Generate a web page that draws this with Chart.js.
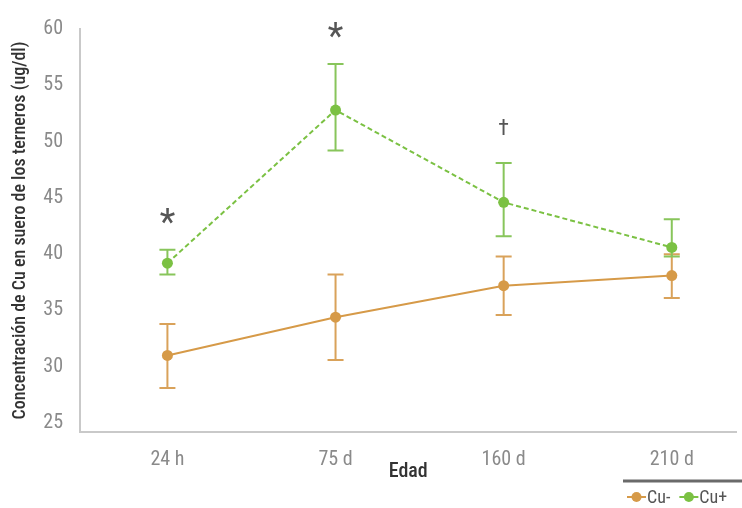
<!DOCTYPE html>
<html>
<head>
<meta charset="utf-8">
<script src="https://cdn.jsdelivr.net/npm/chart.js@4.4.1/dist/chart.umd.min.js"></script>
<style>
  body { margin: 0; background: #fff; }
  canvas { display: block; }
</style>
</head>
<body>
<canvas id="cuChart" width="742" height="508"></canvas>
<script>
// data
var categories = ["24 h", "75 d", "160 d", "210 d"];
var yTicks = [25, 30, 35, 40, 45, 50, 55, 60];
var cuMinus = [31.0, 34.4, 37.2, 38.1];
var cuMinusUpper = [33.8, 38.2, 39.8, 40.0];
var cuMinusLower = [28.1, 30.6, 34.6, 36.1];
var cuPlus = [39.2, 52.8, 44.6, 40.6];
var cuPlusUpper = [40.4, 56.9, 48.1, 43.1];
var cuPlusLower = [38.2, 49.2, 41.6, 39.8];
var marks = ["*", "*", "\u2020", ""];

var FONT = "'Liberation Sans Narrow', 'Roboto Condensed', Roboto, sans-serif";
var orange = "#d69a48";
var green = "#7bc143";

function toPoints(arr) {
  return arr.map(function (v, i) { return { x: i, y: v }; });
}

// error bars, significance marks and the legend
var extras = {
  id: "extras",
  beforeDatasetsDraw: function (chart) {
    var ctx = chart.ctx, xs = chart.scales.x, ys = chart.scales.y;
    var sets = [[cuMinusUpper, cuMinusLower, "#d9a25a"], [cuPlusUpper, cuPlusLower, "#88c55b"]];
    ctx.save();
    ctx.lineWidth = 2;
    sets.forEach(function (s) {
      ctx.strokeStyle = s[2];
      for (var i = 0; i < categories.length; i++) {
        var px = xs.getPixelForValue(i);
        var top = ys.getPixelForValue(s[0][i]);
        var bot = ys.getPixelForValue(s[1][i]);
        ctx.beginPath();
        ctx.moveTo(px, top); ctx.lineTo(px, bot);
        ctx.moveTo(px - 8, top); ctx.lineTo(px + 8, top);
        ctx.moveTo(px - 8, bot); ctx.lineTo(px + 8, bot);
        ctx.stroke();
      }
    });
    ctx.restore();
  },
  afterDraw: function (chart) {
    var ctx = chart.ctx, xs = chart.scales.x, ys = chart.scales.y;
    ctx.save();
    ctx.fillStyle = "#555";
    ctx.textAlign = "center";
    ctx.textBaseline = "middle";
    for (var i = 0; i < marks.length; i++) {
      if (!marks[i]) continue;
      var px = xs.getPixelForValue(i);
      var py = ys.getPixelForValue(cuPlusUpper[i]);
      if (marks[i] == "*") {
        ctx.font = "36px " + FONT;
        ctx.fillText(marks[i], px, py - 25);
      } else {
        ctx.font = "22px " + FONT;
        ctx.fillText(marks[i], px, py - 33);
      }
    }
    // legend
    ctx.strokeStyle = "#6a6a6a";
    ctx.lineWidth = 3;
    ctx.beginPath(); ctx.moveTo(623, 481); ctx.lineTo(742, 481); ctx.stroke();
    var items = chart.data.datasets;
    var lx = 627;
    ctx.font = "18px " + FONT;
    ctx.textAlign = "left";
    items.forEach(function (d) {
      ctx.strokeStyle = d.borderColor;
      ctx.fillStyle = d.borderColor;
      ctx.lineWidth = 2;
      ctx.beginPath(); ctx.moveTo(lx, 497); ctx.lineTo(lx + 19, 497); ctx.stroke();
      ctx.beginPath(); ctx.arc(lx + 9.5, 497, 5, 0, Math.PI * 2); ctx.fill();
      ctx.fillStyle = "#555";
      ctx.fillText(d.label, lx + 20, 498);
      lx += 20 + ctx.measureText(d.label).width + 9;
    });
    ctx.restore();
  }
};

var cuChart = new Chart(document.getElementById("cuChart"), {
  type: "line",
  data: {
    datasets: [{
      label: "Cu-",
      data: toPoints(cuMinus),
      borderColor: orange,
      backgroundColor: orange,
      borderWidth: 2,
      pointRadius: 5.5,
      pointBorderWidth: 0,
      pointBackgroundColor: orange
    }, {
      label: "Cu+",
      data: toPoints(cuPlus),
      borderColor: green,
      backgroundColor: green,
      borderWidth: 2,
      borderDash: [5, 3],
      pointRadius: 5.5,
      pointBorderWidth: 0,
      pointBackgroundColor: green
    }]
  },
  options: {
    responsive: false,
    animation: false,
    layout: { padding: { top: 29, right: 2, bottom: 24, left: 0 } },
    plugins: {
      legend: { display: false },
      tooltip: { enabled: false }
    },
    scales: {
      x: {
        type: "linear",
        min: -0.52,
        max: 3.385,
        grid: { display: false },
        border: { display: true, color: "#c9c9c9", width: 2 },
        afterBuildTicks: function (scale) {
          scale.ticks = categories.map(function (c, i) { return { value: i }; });
        },
        afterFit: function (scale) { scale.height = 52; },
        ticks: {
          padding: 8,
          color: "#8a8a8a",
          font: { family: FONT, size: 20 },
          callback: function (v) { return categories[v]; }
        },
        title: {
          display: true,
          text: "Edad",
          color: "#333",
          padding: { top: 0, bottom: 0 },
          font: { family: FONT, size: 20, weight: "500" }
        }
      },
      y: {
        min: 24.2,
        max: 60,
        grid: { display: false },
        border: { display: true, color: "#c9c9c9", width: 2 },
        afterBuildTicks: function (scale) {
          scale.ticks = yTicks.map(function (v) { return { value: v }; });
        },
        afterFit: function (scale) { scale.width = 80; },
        ticks: {
          padding: 9,
          color: "#8a8a8a",
          font: { family: FONT, size: 20 }
        },
        title: {
          display: true,
          text: "Concentración de Cu en suero de los terneros (ug/dl)",
          color: "#333",
          padding: { top: 10, bottom: 0 },
          font: { family: FONT, size: 18, weight: "500" }
        }
      }
    }
  },
  plugins: [extras]
});
</script>
</body>
</html>
